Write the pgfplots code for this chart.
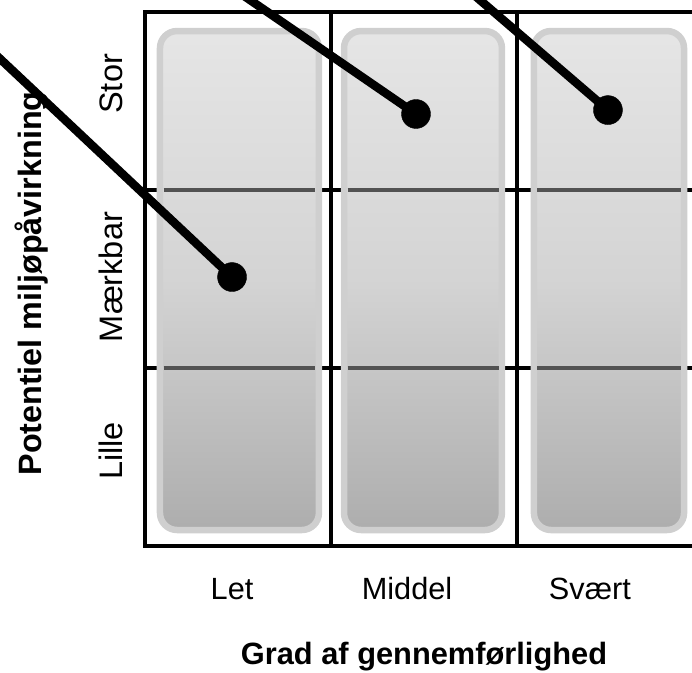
\documentclass[border=0pt]{standalone}
\usepackage{pgfplots}
\pgfplotsset{compat=1.18}
\usepackage{fontspec}
\setmainfont{Liberation Sans}
\begin{document}
\begin{tikzpicture}
\begin{scope}
\clip (-145pt,-126pt) rectangle (547pt,546pt);
\begin{axis}[
  scale only axis, width=558pt, height=534pt,
  xmin=0, xmax=3, ymin=0, ymax=3,
  clip=false,
  axis line style={line width=4pt, black},
  major tick length=0pt,
  xtick={0.468,1.409,2.392},
  xticklabels={Let,Middel,Svært},
  ytick={0.534,1.511,2.596},
  yticklabels={Lille,Mærkbar,Stor},
  xticklabel style={font=\fontsize{30.7}{36}\selectfont, anchor=base, yshift=-53pt, inner sep=0pt},
  yticklabel style={font=\fontsize{32.5}{38}\selectfont, xshift=-23pt, rotate=90, anchor=base, inner sep=0pt},
  every axis x label/.style={at={(axis description cs:0.5,-0.2228)}, anchor=base, font=\bfseries\fontsize{30.8}{36}\selectfont},
  every axis y label/.style={at={(axis description cs:-0.1846,0.4916)}, rotate=90, anchor=base, font=\bfseries\fontsize{32.3}{38}\selectfont},
  xlabel={Grad af gennemførlighed},
  ylabel={Potentiel miljøpåvirkning},
]
% grid lines
\draw[black, line width=4pt] (axis cs:1,0) -- (axis cs:1,3);
\draw[black, line width=4pt] (axis cs:2,0) -- (axis cs:2,3);
\draw[black, line width=4pt] (axis cs:0,1) -- (axis cs:3,1);
\draw[black, line width=4pt] (axis cs:0,2) -- (axis cs:3,2);
% rounded boxes
\shadedraw[draw=black!19, line width=6.5pt, rounded corners=17pt, top color=black!10, bottom color=black!32, middle color=black!17]
  (axis cs:0.0806,0.0899) rectangle (axis cs:0.935,2.893);
\shadedraw[draw=black!19, line width=6.5pt, rounded corners=17pt, top color=black!10, bottom color=black!32, middle color=black!17]
  (axis cs:1.070,0.0899) rectangle (axis cs:1.919,2.893);
\shadedraw[draw=black!19, line width=6.5pt, rounded corners=17pt, top color=black!10, bottom color=black!32, middle color=black!17]
  (axis cs:2.091,0.0899) rectangle (axis cs:2.898,2.893);
% inner grey lines
\draw[black!68, line width=3.5pt] (axis cs:0.0995,1) -- (axis cs:0.916,1);
\draw[black!68, line width=3.5pt] (axis cs:0.0995,2) -- (axis cs:0.916,2);
\draw[black!68, line width=3.5pt] (axis cs:1.089,1) -- (axis cs:1.901,1);
\draw[black!68, line width=3.5pt] (axis cs:1.089,2) -- (axis cs:1.901,2);
\draw[black!68, line width=3.5pt] (axis cs:2.110,1) -- (axis cs:2.879,1);
\draw[black!68, line width=3.5pt] (axis cs:2.110,2) -- (axis cs:2.879,2);
% leader lines
\addplot[black, line width=8.5pt] coordinates {(0.468,1.511) (-0.892,2.848)};
\addplot[black, line width=8.5pt] coordinates {(1.457,2.427) (0.455,3.146)};
\addplot[black, line width=8.5pt] coordinates {(2.489,2.449) (1.713,3.146)};
% dots
\addplot[only marks, mark=*, mark size=14.5pt, black] coordinates {(0.468,1.511) (1.457,2.427) (2.489,2.449)};
\end{axis}
\end{scope}
\pgfresetboundingbox
\useasboundingbox (-145pt,-126pt) rectangle (547pt,546pt);
\end{tikzpicture}
\end{document}
